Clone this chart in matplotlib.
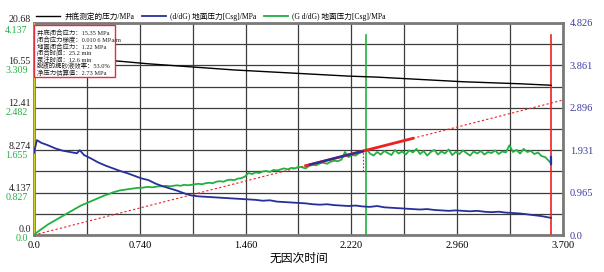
import matplotlib
matplotlib.use('Agg')
import matplotlib.pyplot as plt
import matplotlib.transforms as mtransforms
from matplotlib.patches import Rectangle
import numpy as np

plt.rcParams['font.family'] = ['Liberation Serif', 'Noto Sans CJK SC']

# ---------------- data ----------------
x_black = [0.0, 0.1, 0.2, 0.3, 0.4, 0.5, 0.6, 0.8, 1.0, 1.2, 1.4, 1.6, 1.8,
           2.0, 2.2, 2.4, 2.6, 2.8, 3.0, 3.2, 3.4, 3.6, 3.616]
black = [18.4, 17.9, 17.6, 17.4, 17.2, 17.05, 16.95, 16.7, 16.5, 16.3, 16.1,
         15.95, 15.8, 15.65, 15.5, 15.4, 15.25, 15.1, 14.95, 14.85, 14.75,
         14.62, 14.6]

x_blue = [0.00, 0.02, 0.05, 0.10, 0.15, 0.20, 0.25, 0.30, 0.32, 0.35, 0.40,
          0.45, 0.50, 0.55, 0.60, 0.65, 0.70, 0.75, 0.80, 0.85, 0.90, 0.95,
          1.00, 1.05, 1.10, 1.15, 1.20, 1.25, 1.30, 1.35, 1.40, 1.45, 1.50,
          1.55, 1.60, 1.65, 1.70, 1.75, 1.80, 1.85, 1.90, 1.95, 2.00, 2.05,
          2.10, 2.15, 2.20, 2.25, 2.30, 2.35, 2.40, 2.45, 2.50, 2.55, 2.60,
          2.65, 2.70, 2.75, 2.80, 2.85, 2.90, 2.95, 3.00, 3.05, 3.10, 3.15,
          3.20, 3.25, 3.30, 3.35, 3.40, 3.45, 3.50, 3.55, 3.60, 3.616]
blue = [1.87, 2.16, 2.10, 2.04, 1.97, 1.92, 1.89, 1.86, 1.93, 1.82, 1.74,
        1.65, 1.58, 1.52, 1.46, 1.41, 1.35, 1.29, 1.25, 1.17, 1.11, 1.06,
        1.01, 0.95, 0.90, 0.88, 0.87, 0.86, 0.85, 0.84, 0.83, 0.82, 0.81,
        0.80, 0.78, 0.79, 0.76, 0.75, 0.74, 0.73, 0.72, 0.70, 0.69, 0.70,
        0.68, 0.67, 0.66, 0.67, 0.65, 0.64, 0.66, 0.63, 0.62, 0.61, 0.60,
        0.59, 0.58, 0.59, 0.57, 0.56, 0.55, 0.56, 0.55, 0.54, 0.55, 0.53,
        0.52, 0.53, 0.51, 0.50, 0.49, 0.47, 0.45, 0.43, 0.40, 0.39]

x_green = [0.000, 0.025, 0.050, 0.075, 0.100, 0.125, 0.150, 0.175, 0.200,
           0.225, 0.250, 0.275, 0.300, 0.325, 0.350, 0.375, 0.400, 0.425,
           0.450, 0.475, 0.500, 0.525, 0.550, 0.575, 0.600, 0.625, 0.650,
           0.675, 0.700, 0.725, 0.750, 0.775, 0.800, 0.825, 0.850, 0.875,
           0.900, 0.925, 0.950, 0.975, 1.000, 1.025, 1.050, 1.075, 1.100,
           1.125, 1.150, 1.175, 1.200, 1.225, 1.250, 1.275, 1.300, 1.325,
           1.350, 1.375, 1.400, 1.425, 1.450, 1.475, 1.500, 1.525, 1.550,
           1.575, 1.600, 1.625, 1.650, 1.675, 1.700, 1.725, 1.750, 1.775,
           1.800, 1.825, 1.850, 1.875, 1.900, 1.925, 1.950, 1.975, 2.000,
           2.025, 2.050, 2.075, 2.100, 2.125, 2.150, 2.175, 2.200, 2.225,
           2.250, 2.275, 2.300, 2.325, 2.350, 2.375, 2.400, 2.425, 2.450,
           2.475, 2.500, 2.525, 2.550, 2.575, 2.600, 2.625, 2.650, 2.675,
           2.700, 2.725, 2.750, 2.775, 2.800, 2.825, 2.850, 2.875, 2.900,
           2.925, 2.950, 2.975, 3.000, 3.025, 3.050, 3.075, 3.100, 3.125,
           3.150, 3.175, 3.200, 3.225, 3.250, 3.275, 3.300, 3.325, 3.350,
           3.375, 3.400, 3.425, 3.450, 3.475, 3.500, 3.525, 3.550, 3.575,
           3.600, 3.616]
green = [0.00, 0.06, 0.11, 0.16, 0.21, 0.25, 0.29, 0.33, 0.37, 0.41, 0.45,
         0.49, 0.53, 0.57, 0.60, 0.63, 0.66, 0.69, 0.72, 0.75, 0.78, 0.80,
         0.83, 0.85, 0.87, 0.88, 0.89, 0.90, 0.91, 0.92, 0.92, 0.93, 0.94,
         0.93, 0.94, 0.95, 0.95, 0.96, 0.95, 0.96, 0.97, 0.96, 0.98, 0.97,
         0.98, 0.99, 1.00, 0.99, 1.01, 1.02, 1.01, 1.04, 1.05, 1.04, 1.07,
         1.08, 1.07, 1.10, 1.11, 1.14, 1.21, 1.19, 1.22, 1.21, 1.24, 1.25,
         1.23, 1.27, 1.26, 1.28, 1.30, 1.28, 1.31, 1.30, 1.33, 1.32, 1.30,
         1.35, 1.37, 1.36, 1.40, 1.41, 1.39, 1.43, 1.45, 1.44, 1.47, 1.62,
         1.52, 1.56, 1.55, 1.60, 1.62, 1.68, 1.59, 1.55, 1.62, 1.57, 1.64,
         1.60, 1.56, 1.66, 1.59, 1.63, 1.57, 1.65, 1.61, 1.68, 1.58, 1.64,
         1.55, 1.62, 1.66, 1.57, 1.63, 1.59, 1.67, 1.56, 1.62, 1.58, 1.65,
         1.60, 1.55, 1.63, 1.59, 1.64, 1.57, 1.62, 1.60, 1.65, 1.58, 1.63,
         1.61, 1.75, 1.62, 1.66, 1.59, 1.68, 1.62, 1.64, 1.58, 1.61, 1.54,
         1.52, 1.45, 1.40]

# straight line fitted through origin (G axis) and highlighted segments
fit_x = [0.0, 3.7]
fit_y = [0.0, 2.634]
red_seg_x = [1.90, 2.65]
red_seg_y = [1.352, 1.886]
blue_seg_x = [1.93, 2.30]
blue_seg_y = [1.374, 1.637]
closure_x = 2.30
closure_y = [1.25, 1.637]
end_blue_x = 3.616
end_blue_y = [1.38, 1.52]
vline_green_x = 2.32
vline_red_x = 3.616

x_labels = ['0.0', '', '0.740', '', '1.460', '', '2.220', '', '2.960', '', '3.700']
left_vals = [0.0, 4.137, 8.274, 12.41, 16.55, 20.68]
left_labels = ['0.0', '4.137', '8.274', '12.41', '16.55', '20.68']
g_vals = [0.0, 0.827, 1.655, 2.482, 3.309, 4.137]
g_labels = ['0.0', '0.827', '1.655', '2.482', '3.309', '4.137']
right_vals = [0.0, 0.965, 1.931, 2.896, 3.861, 4.826]
right_labels = ['0.0', '0.965', '1.931', '2.896', '3.861', '4.826']

box_lines = ['井底闭合应力：15.35 MPa',
             '闭合应力梯度：0.010 6 MPa/m',
             '地面闭合应力：1.22 MPa',
             '闭合时间：25.2 min',
             '泵注时间：12.6 min',
             '脱液的携砂液效率：53.0%',
             '净压力估算值：2.73 MPa']

legend_labels = ['井底测定的压力/MPa', '(d/dG) 地面压力[Csg]/MPa',
                 '(G d/dG) 地面压力[Csg]/MPa']

# ---------------- colours ----------------
C_BLUE = '#26309a'
C_GREEN = '#22b040'
C_RED = '#f02020'
C_YEL = '#e8e020'
C_RLAB = '#3a3aa0'

fig = plt.figure(figsize=(6.04, 2.72), dpi=100)
ax = fig.add_axes([34 / 604, 1 - 235 / 272, (563 - 34) / 604, 212 / 272])
ax.set_xlim(0, 3.7)
ax.set_ylim(0, 20.68)
axg = ax.twinx()
axg.set_ylim(0, 4.137)
axb = ax.twinx()
axb.set_ylim(0, 4.826)

# grid
ax.set_xticks(np.linspace(0, 3.7, 11))
ax.set_xticklabels(x_labels, fontsize=7.5)
ax.set_yticks(np.linspace(0, 20.68, 11))
ax.set_yticklabels([])
ax.grid(True, color='#3c3c3c', lw=0.9)
ax.tick_params(length=0, pad=4.5)
for s in ax.spines.values():
    s.set_color('#7a7a7a')
    s.set_linewidth(2)
for a in (axg, axb):
    for s in a.spines.values():
        s.set_visible(False)
axg.set_yticks([])
axb.set_yticks(right_vals)
axb.set_yticklabels(right_labels, fontsize=7.5, color=C_RLAB)
axb.tick_params(length=0, pad=5)

ax.set_xlabel('无因次时间', fontsize=8.5, labelpad=2)

# left labels (two stacked scales)
base = mtransforms.blended_transform_factory(ax.transAxes, ax.transData)
for v, lab in zip(left_vals, left_labels):
    dy = 5 if v == left_vals[0] else 4
    up = mtransforms.ScaledTranslation(0, dy / 100, fig.dpi_scale_trans)
    ax.text(-0.006, v, lab, transform=base + up, ha='right', va='center',
            fontsize=7.2, color='#202020')
baseg = mtransforms.blended_transform_factory(axg.transAxes, axg.transData)
for v, lab in zip(g_vals, g_labels):
    if v == g_vals[-1]:
        dy = -8
    elif v == g_vals[0]:
        dy = -3
    else:
        dy = -5
    dn = mtransforms.ScaledTranslation(0, dy / 100, fig.dpi_scale_trans)
    axg.text(-0.012, v, lab, transform=baseg + dn, ha='right', va='center',
             fontsize=7.2, color=C_GREEN)

# vertical markers
ax.axvline(0, color=C_YEL, lw=1.2, zorder=3)
ax.axvline(vline_green_x, ymax=200 / 212, color=C_GREEN, lw=1.2, zorder=3)
ax.axvline(vline_red_x, ymax=200 / 212, color=C_RED, lw=1.2, zorder=3)

# curves
lb, = ax.plot(x_black, black, color='black', lw=1.0, zorder=4)
axg.plot(fit_x, fit_y, color=C_RED, lw=0.8, ls=(0, (2, 2)))
axg.plot([closure_x, closure_x], closure_y, color=C_RED, lw=0.8, ls=(0, (1.5, 1.5)))
lg, = axg.plot(x_green, green, color=C_GREEN, lw=1.3)
axg.plot(red_seg_x, red_seg_y, color=C_RED, lw=2.0)
axg.plot(blue_seg_x, blue_seg_y, color=C_BLUE, lw=1.6)
axg.plot([end_blue_x, end_blue_x], end_blue_y, color=C_BLUE, lw=1.6)
lblu, = axb.plot(x_blue, blue, color=C_BLUE, lw=1.3)

# info box
axb.add_patch(Rectangle((0.0, (235 - 77) / 212), (115 - 34) / 529, 52 / 212,
                        transform=axb.transAxes, facecolor='white',
                        edgecolor='#e03040', lw=1.0, zorder=10))
for i, t in enumerate(box_lines):
    axb.text(3 / 529, (235 - 33 - i * 6.6) / 212, t, transform=axb.transAxes,
             fontsize=4.6, ha='left', va='center', zorder=11, color='#202020')

# legend
axb.legend([lb, lblu, lg], legend_labels, loc='lower left',
           bbox_to_anchor=(0.0, 1.0), ncol=3, frameon=False, fontsize=5.5,
           handlelength=3.2, columnspacing=1.0, handletextpad=0.5,
           borderaxespad=0.15, borderpad=0.1)

fig.savefig('out.png', dpi=100)
